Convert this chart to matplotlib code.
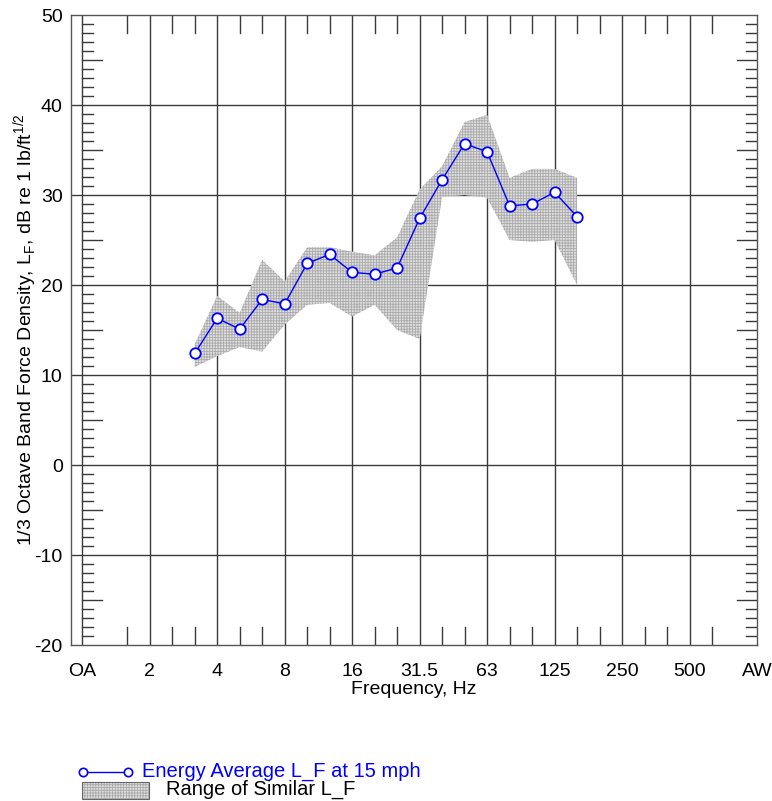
import matplotlib
matplotlib.use("Agg")
import matplotlib.pyplot as plt
from matplotlib.lines import Line2D
from matplotlib.patches import Rectangle

plt.rcParams['font.family'] = ['Liberation Sans', 'DejaVu Sans']
plt.rcParams['hatch.linewidth'] = 0.6
plt.rcParams['axes.unicode_minus'] = False

# x positions in 1/3-octave steps: OA=0, 2 Hz=3, 4 Hz=6, ... AW=30
tick_labels = ['OA', '2', '4', '8', '16', '31.5', '63', '125', '250', '500', 'AW']
tick_pos = [0, 3, 6, 9, 12, 15, 18, 21, 24, 27, 30]

# bands 3.15 Hz .. 160 Hz
band_pos = [5, 6, 7, 8, 9, 10, 11, 12, 13, 14, 15, 16, 17, 18, 19, 20, 21, 22]
energy_avg = [12.4, 16.3, 15.1, 18.4, 17.9, 22.4, 23.4, 21.4, 21.2, 21.9,
              27.4, 31.7, 35.7, 34.8, 28.8, 29.0, 30.3, 27.6]
range_upper = [13.4, 18.8, 16.9, 22.8, 20.4, 24.2, 24.2, 23.7, 23.3, 25.3,
               30.6, 33.2, 38.1, 38.9, 31.9, 32.9, 32.9, 31.9]
range_lower = [10.9, 12.1, 13.1, 12.6, 15.6, 17.8, 18.0, 16.5, 17.8, 15.0,
               14.0, 29.8, 30.0, 29.7, 25.0, 24.8, 25.0, 20.0]

W, H = 772, 801
fig = plt.figure(figsize=(W / 100, H / 100), dpi=100)
ax = fig.add_axes([71 / W, 1 - 645 / H, (757 - 71) / W, (645 - 15) / H])
ax.set_xlim(-0.5, 30)
ax.set_ylim(-20, 50)

gc = '#3a3a3a'
# grid
for y in range(-10, 50, 10):
    ax.plot([-0.5, 30], [y, y], color=gc, lw=1.0, zorder=1)
for x in tick_pos[:-1]:
    ax.plot([x, x], [-20, 50], color=gc, lw=1.0, zorder=1)

# y minor ticks (left from OA line, right from spine)
for y in range(-19, 50):
    if y % 10 == 0:
        continue
    L = 0.9 if y % 5 == 0 else 0.5
    ax.plot([0, L], [y, y], color=gc, lw=1.0, zorder=1)
    ax.plot([30 - L, 30], [y, y], color=gc, lw=1.0, zorder=1)
# x minor ticks (top & bottom)
for x in range(2, 29):
    if x % 3 == 0:
        continue
    ax.plot([x, x], [-20, -18], color=gc, lw=1.0, zorder=1)
    ax.plot([x, x], [48, 50], color=gc, lw=1.0, zorder=1)

band_face = '#dedede'
band_hatch = '#ababab'
# range band
ax.fill_between(band_pos, range_lower, range_upper, facecolor=band_face,
                edgecolor=band_hatch, hatch='++++++', linewidth=0, zorder=2)
# energy average
ax.plot(band_pos, energy_avg, color='#0000ff', lw=1.0, marker='o', ms=7.5,
        mfc='white', mec='#0000ff', mew=1.3, zorder=3)

ax.set_xticks(tick_pos)
ax.set_xticklabels(tick_labels)
ax.set_yticks(range(-20, 51, 10))
ax.tick_params(axis='both', length=0, labelsize=14, colors='black')
ax.tick_params(axis='x', pad=13)
ax.tick_params(axis='y', pad=6)
for s in ax.spines.values():
    s.set_color('#555555')
    s.set_linewidth(1.0)

ax.set_xlabel('Frequency, Hz', fontsize=14, labelpad=1)
ax.set_ylabel(r'1/3 Octave Band Force Density, L$_\mathregular{F}$, dB re 1 lb/ft$^\mathregular{1/2}$',
              fontsize=14, labelpad=-4)

# legend (manual)
def fx(px):
    return px / W

def fy(py):
    return 1 - py / H

fig.add_artist(Line2D([fx(83), fx(128)], [fy(772), fy(772)], color='#0000ff', lw=1.0,
                      marker='o', ms=6, mfc='white', mec='#0000ff', mew=1.2,
                      transform=fig.transFigure))
fig.text(fx(142), fy(771), 'Energy Average L_F at 15 mph', color='#0000ff',
         fontsize=14.5, va='center', ha='left')
fig.add_artist(Rectangle((fx(82), fy(799)), fx(149) - fx(82), fy(782) - fy(799),
                         facecolor=band_face, edgecolor=band_hatch, hatch='++++++',
                         linewidth=0, transform=fig.transFigure))
fig.add_artist(Rectangle((fx(82), fy(799)), fx(149) - fx(82), fy(782) - fy(799),
                         facecolor='none', edgecolor='#666666', linewidth=0.8,
                         transform=fig.transFigure))
fig.text(fx(166), fy(789), 'Range of Similar L_F', color='black',
         fontsize=14.5, va='center', ha='left')

fig.savefig('out.png', dpi=100)
